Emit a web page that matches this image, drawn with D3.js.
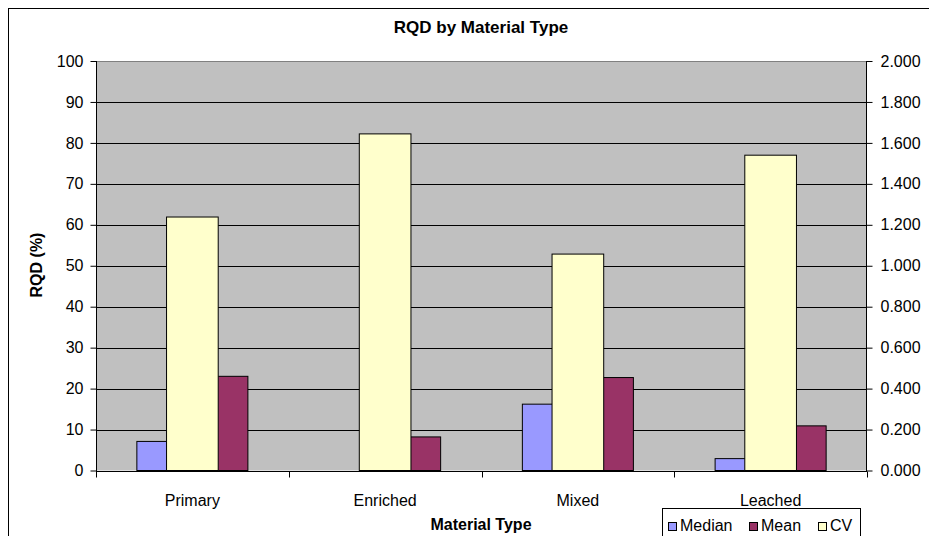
<!DOCTYPE html>
<html><head><meta charset="utf-8">
<script src="https://cdn.jsdelivr.net/npm/d3@7"></script>
<style>body{margin:0;background:#fff;} svg{display:block;font-family:Arial,"Liberation Sans",sans-serif;}</style>
</head><body>
<svg id="c" width="929" height="536"></svg>
<script>
const categories = ["Primary","Enriched","Mixed","Leached"];
const median = [7.1, 0, 16.2, 2.9];
const mean = [23.0, 8.2, 22.7, 10.9];
const cv = [1.238, 1.644, 1.057, 1.540];
const leftTicks = [0,10,20,30,40,50,60,70,80,90,100];
const rightTicks = [0,0.2,0.4,0.6,0.8,1.0,1.2,1.4,1.6,1.8,2.0];
const seriesNames = ["Median","Mean","CV"];
const colors = {Median:"#9999FF", Mean:"#993366", CV:"#FFFFCC"};

const svg = d3.select("#c");
const L=96, R=867, T=61, B=470.5;

// chart border
svg.append("rect").attr("x",8.5).attr("y",8.5).attr("width",940).attr("height",540)
  .attr("fill","#fff").attr("stroke","#000").attr("stroke-width",1);

const x = d3.scaleBand().domain(categories).range([L,R]);
const yL = d3.scaleLinear().domain([0,100]).range([B,T]);
const yR = d3.scaleLinear().domain([0,2]).range([B,T]);

svg.append("rect").attr("x",L).attr("y",T).attr("width",R-L).attr("height",B-T).attr("fill","#C0C0C0");

// gridlines
svg.append("g").selectAll("line").data(leftTicks.slice(1)).join("line")
  .attr("x1",L).attr("x2",R).attr("y1",d=>Math.round(yL(d))+0.5).attr("y2",d=>Math.round(yL(d))+0.5)
  .attr("stroke","#000").attr("stroke-width",1);
svg.append("line").attr("x1",L).attr("x2",R).attr("y1",T+0.5).attr("y2",T+0.5).attr("stroke","#808080");

const bw = x.bandwidth();
const pw = bw*0.288, cw = bw*0.268;
const cx = c => x(c)+bw/2;

const g = svg.append("g");
g.selectAll(".med").data(categories).join("rect")
  .attr("x",(c)=>cx(c)-pw).attr("width",pw)
  .attr("y",(c,i)=>yL(median[i])).attr("height",(c,i)=>B-yL(median[i]))
  .attr("fill",colors.Median).attr("stroke","#000").attr("stroke-width",1)
  .attr("display",(c,i)=>median[i]>0?null:"none");
g.selectAll(".mean").data(categories).join("rect")
  .attr("x",(c)=>cx(c)).attr("width",pw)
  .attr("y",(c,i)=>yL(mean[i])).attr("height",(c,i)=>B-yL(mean[i]))
  .attr("fill",colors.Mean).attr("stroke","#000").attr("stroke-width",1);
g.selectAll(".cv").data(categories).join("rect")
  .attr("x",(c)=>cx(c)-cw/2).attr("width",cw)
  .attr("y",(c,i)=>yR(cv[i])).attr("height",(c,i)=>B-yR(cv[i]))
  .attr("fill",colors.CV).attr("stroke","#000").attr("stroke-width",1);

// axes
const axL = svg.append("g").attr("transform",`translate(${L+0.5},0)`)
  .call(d3.axisLeft(yL).tickValues(leftTicks).tickSize(6).tickPadding(7).tickFormat(d3.format("d")));
const axR = svg.append("g").attr("transform",`translate(${R-0.5},0)`)
  .call(d3.axisRight(yR).tickValues(rightTicks).tickSize(6).tickPadding(8).tickFormat(d3.format(".3f")));
[axL,axR].forEach(a=>{
  a.select(".domain").attr("stroke","#000").attr("d",null);
  a.selectAll(".tick line").attr("stroke","#000");
  a.selectAll("text").attr("font-size",16).attr("fill","#000").attr("font-family","Arial, 'Liberation Sans', sans-serif");
});
axL.append("line").attr("x1",0).attr("x2",0).attr("y1",T).attr("y2",B+0.5).attr("stroke","#000");
axR.append("line").attr("x1",0).attr("x2",0).attr("y1",T).attr("y2",B+0.5).attr("stroke","#000");

const axB = svg.append("g").attr("transform",`translate(0,${Math.round(B)+0.5})`);
axB.append("line").attr("x1",L).attr("x2",R).attr("stroke","#000");
axB.selectAll(".tk").data(d3.range(categories.length+1)).join("line")
  .attr("x1",i=>Math.round(L+i*bw)+0.5).attr("x2",i=>Math.round(L+i*bw)+0.5).attr("y1",0).attr("y2",6).attr("stroke","#000");
axB.selectAll("text").data(categories).join("text")
  .attr("x",c=>cx(c)).attr("y",34).attr("text-anchor","middle").attr("font-size",16).text(c=>c);

// titles
svg.append("text").attr("x",481).attr("y",33).attr("text-anchor","middle")
  .attr("font-size",17).attr("font-weight","bold").text("RQD by Material Type");
svg.append("text").attr("x",481).attr("y",530).attr("text-anchor","middle")
  .attr("font-size",16).attr("font-weight","bold").text("Material Type");
svg.append("text").attr("transform","translate(42,265) rotate(-90)").attr("text-anchor","middle")
  .attr("font-size",16).attr("font-weight","bold").text("RQD (%)");

// legend
const lg = svg.append("g");
lg.append("rect").attr("x",662.5).attr("y",508.5).attr("width",198).attr("height",40).attr("fill","#fff").attr("stroke","#000");
const itemX = [668, 749, 818];
seriesNames.forEach((s,i)=>{
  lg.append("rect").attr("x",itemX[i]+0.5).attr("y",522.5).attr("width",8).attr("height",8)
    .attr("fill",colors[s]).attr("stroke","#000");
  lg.append("text").attr("x",itemX[i]+12).attr("y",531).attr("font-size",16).text(s);
});
</script>
</body></html>
